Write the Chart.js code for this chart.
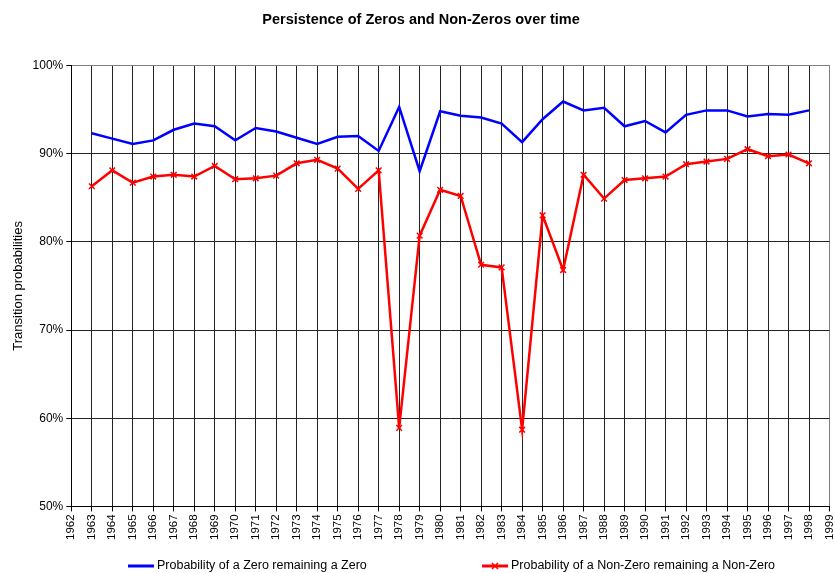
<!DOCTYPE html>
<html lang="en">
  <head>
    <meta charset="UTF-8" />
    <title>Persistence of Zeros and Non-Zeros over time</title>
    <style>
      *,
      *::after,
      *::before {
        margin: 0;
        padding: 0;
      }

      body {
        background: #fff;
        overflow: hidden;
      }
    </style>
  </head>
  <body>
    <canvas id="myChart" width="835" height="573"></canvas>

    <script src="https://cdn.jsdelivr.net/npm/chart.js@4/dist/chart.umd.min.js"></script>
    <script>
      // Years shown on the chart (axis runs one year either side)
      const years = [
        1963, 1964, 1965, 1966, 1967, 1968, 1969, 1970, 1971, 1972, 1973, 1974,
        1975, 1976, 1977, 1978, 1979, 1980, 1981, 1982, 1983, 1984, 1985, 1986,
        1987, 1988, 1989, 1990, 1991, 1992, 1993, 1994, 1995, 1996, 1997, 1998
      ]

      // Transition probabilities in percent
      const zeroToZero = [
        92.3, 91.7, 91.1, 91.5, 92.7, 93.4, 93.1, 91.5, 92.9, 92.5, 91.8, 91.1,
        91.9, 92.0, 90.3, 95.3, 88.0, 94.8, 94.3, 94.1, 93.4, 91.3, 93.9, 95.9,
        94.9, 95.2, 93.1, 93.7, 92.4, 94.4, 94.9, 94.9, 94.2, 94.5, 94.4, 94.9
      ]
      const nonZeroToNonZero = [
        86.3, 88.1, 86.7, 87.4, 87.6, 87.4, 88.6, 87.1, 87.2, 87.5, 88.9, 89.3,
        88.3, 86.0, 88.1, 58.9, 80.7, 85.9, 85.2, 77.4, 77.1, 58.7, 83.0, 76.8,
        87.6, 84.9, 87.0, 87.2, 87.4, 88.8, 89.1, 89.4, 90.5, 89.7, 89.9, 88.9
      ]

      const seriesLabels = [
        'Probability of a Zero remaining a Zero',
        'Probability of a Non-Zero remaining a Non-Zero'
      ]
      const yearRange = [1962, 1999]
      const percentRange = [50, 100]

      const ctx = document.getElementById('myChart')

      // Legend drawn under the axis, Excel style (line sample + label)
      const bottomLegend = {
        id: 'bottomLegend',
        afterDraw(chart) {
          const c = chart.ctx
          const y = chart.height - 7
          const starts = [128, 482]
          chart.data.datasets.forEach((ds, i) => {
            const x = starts[i]
            c.save()
            c.strokeStyle = ds.borderColor
            c.lineWidth = 3
            c.beginPath()
            c.moveTo(x, y)
            c.lineTo(x + 26, y)
            c.stroke()
            if (ds.pointStyle === 'crossRot') {
              c.lineWidth = 1.5
              c.beginPath()
              c.moveTo(x + 10, y - 3)
              c.lineTo(x + 16, y + 3)
              c.moveTo(x + 16, y - 3)
              c.lineTo(x + 10, y + 3)
              c.stroke()
            }
            c.fillStyle = '#000'
            c.font = '12.5px Arial, "Liberation Sans", sans-serif'
            c.textBaseline = 'middle'
            c.textAlign = 'left'
            c.fillText(ds.label, x + 29, y)
            c.restore()
          })
        }
      }

      const data = {
        datasets: [
          {
            label: seriesLabels[0],
            data: years.map((yr, i) => ({ x: yr, y: zeroToZero[i] })),
            borderColor: '#0000ff',
            backgroundColor: '#0000ff',
            borderWidth: 2.5,
            pointRadius: 0,
            tension: 0
          },
          {
            label: seriesLabels[1],
            data: years.map((yr, i) => ({ x: yr, y: nonZeroToNonZero[i] })),
            borderColor: '#ff0000',
            backgroundColor: '#ff0000',
            borderWidth: 2.5,
            pointStyle: 'crossRot',
            pointRadius: 4,
            pointBorderWidth: 1.5,
            tension: 0
          }
        ]
      }

      const options = {
        responsive: false,
        animation: false,
        layout: {
          padding: { left: 7, right: 0, top: 0, bottom: 30 }
        },
        plugins: {
          legend: { display: false },
          tooltip: { enabled: false },
          title: {
            display: true,
            text: 'Persistence of Zeros and Non-Zeros over time',
            color: '#000',
            font: { family: 'Arial, "Liberation Sans", sans-serif', size: 14.5, weight: 'bold' },
            padding: { top: 11, bottom: 37 }
          }
        },
        scales: {
          x: {
            type: 'linear',
            min: yearRange[0],
            max: yearRange[1],
            // let the last year label run off the edge, as in the original
            afterFit: (scale) => {
              scale.paddingRight = 0
            },
            ticks: {
              stepSize: 1,
              autoSkip: false,
              minRotation: 90,
              maxRotation: 90,
              color: '#000',
              padding: 3,
              font: { family: 'Arial, "Liberation Sans", sans-serif', size: 11.5 },
              callback: (value) => String(value)
            },
            grid: {
              color: (c) => (c.tick && c.tick.value === yearRange[1] ? '#808080' : '#222'),
              tickColor: '#000',
              tickLength: 5,
              lineWidth: 1
            },
            border: { color: '#000', width: 1 }
          },
          y: {
            min: percentRange[0],
            max: percentRange[1],
            ticks: {
              stepSize: 10,
              color: '#000',
              padding: 3,
              font: { family: 'Arial, "Liberation Sans", sans-serif', size: 12 },
              callback: (value) => value + '%'
            },
            title: {
              display: true,
              text: 'Transition probabilities',
              color: '#000',
              font: { family: 'Arial, "Liberation Sans", sans-serif', size: 13 },
              padding: { top: 4, bottom: 3 }
            },
            grid: {
              color: (c) => (c.tick && c.tick.value === percentRange[1] ? '#808080' : '#222'),
              tickColor: '#000',
              tickLength: 5,
              lineWidth: 1
            },
            border: { color: '#000', width: 1 }
          }
        }
      }

      new Chart(ctx, { type: 'line', data, options, plugins: [bottomLegend] })
    </script>
  </body>
</html>
